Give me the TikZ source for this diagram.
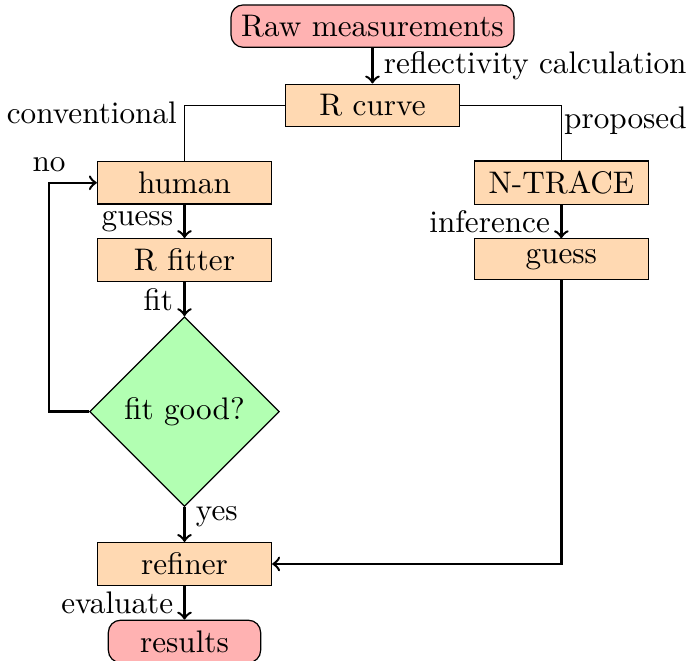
\documentclass[tikz,border=0pt]{standalone}
\usepackage{amsmath}
\usepackage{tikz}
\usepackage{xcolor}
\usetikzlibrary{shapes.geometric}

\tikzset{
  every node/.style={font=\fontsize{10.2pt}{12.2pt}\selectfont},
  endbox/.style={draw,rounded corners,fill=red!30},
  procbox/.style={draw,fill=orange!30,minimum width=2cm},
  checkbox/.style={draw,diamond,fill=green!30,inner sep=1pt,minimum width=2.18cm,minimum height=2.18cm},
  flow/.style={->,thick},
  branch/.style={thin}
}

\begin{document}
\begin{tikzpicture}
      \useasboundingbox (0,0) rectangle (7.94,-7.59);
      \node [endbox] (raw) at (4.28,-0.30) {Raw measurements};
      \node [procbox] (rcurve) at (4.28,-1.21) {R curve};
      \node [procbox] (human) at (2.12,-2.10) {human};
      \node [procbox] (ntrace) at (6.45,-2.10) {N-TRACE};
      \node [procbox] (fitter) at (2.12,-2.99) {R fitter};
      \node [procbox] (guess) at (6.45,-2.98) {guess};
      \node [checkbox] (check) at (2.12,-4.73) {fit good?};
      \node [procbox] (refiner) at (2.12,-6.48) {refiner};
      \node [endbox,minimum width=1.75cm] (results) at (2.12,-7.37) {results};
      \draw [flow] (raw) -- node [right] {reflectivity calculation} (rcurve);
      \draw [branch] (rcurve.west) -| node [pos=0.5,left,xshift=1pt,yshift=-2.4pt] {conventional} (human.north);
      \draw [branch] (rcurve.east) -| node [pos=0.5,right,xshift=-2.6pt,yshift=-4.9pt] {proposed} (ntrace.north);
      \draw [flow] (human) -- node [left] {guess} (fitter);
      \draw [flow] (fitter) -- node [left] {fit} (check);
      \draw [flow] (check.west) -- ++(-0.46,0) |- node [pos=0.5,above] {no} (human.west);
      \draw [flow] (check) -- node [right,pos=0.27] {yes} (refiner);
      \draw [flow] (ntrace) -- node [left] {inference} (guess);
      \draw [flow] (guess.south) |- (refiner.east);
      \draw [flow] (refiner) -- node [left] {evaluate} (results);
    \end{tikzpicture}
\end{document}
